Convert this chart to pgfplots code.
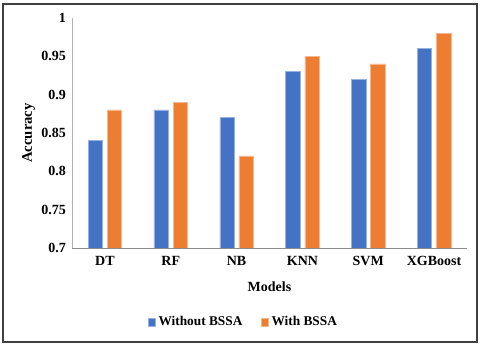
\documentclass[border=0pt]{standalone}
\usepackage{fontspec}
\setmainfont{Liberation Serif}
\usepackage{pgfplots}
\pgfplotsset{compat=1.18}
\definecolor{barblue}{HTML}{4472C4}
\definecolor{barorange}{HTML}{ED7D31}
\begin{document}
\fontsize{10}{12}\selectfont\bfseries
\begin{tikzpicture}
\useasboundingbox (0,0) rectangle (360pt,258.75pt);
\draw[line width=1.5pt, black!75] (2.6pt,2.6pt) rectangle (357.4pt,256.1pt);
\begin{axis}[
  at={(54pt,72.75pt)}, anchor=south west,
  scale only axis, width=296.25pt, height=172.5pt,
  ybar,
  ymin=0.7, ymax=1,
  ytick={0.7,0.75,0.8,0.85,0.9,0.95,1},
  xmin=-0.5, xmax=5.5,
  xtick={0,...,5},
  xticklabels={DT,RF,NB,KNN,SVM,XGBoost},
  axis x line*=bottom, axis y line*=left,
  x axis line style={black!45,-},
  y axis line style={black!30,-},
  major tick length=0pt,
  /pgf/number format/assume math mode=true,
  yticklabel style={font=\fontsize{10.5}{12}\selectfont\bfseries, anchor=east, xshift=-1pt,
    /pgf/number format/fixed, /pgf/number format/precision=2},
  xticklabel style={font=\fontsize{10.5}{12}\selectfont\bfseries, anchor=base, yshift=-13pt},
  ylabel={Accuracy},
  ylabel style={font=\fontsize{11}{12}\selectfont\bfseries, at={(axis description cs:-0.11,0.5)}, anchor=center},
  xlabel={Models},
  xlabel style={font=\fontsize{10.5}{12}\selectfont\bfseries, at={(axis description cs:0.5,-0.17)}, anchor=center},
  legend style={at={(axis description cs:0.435,-0.322)}, anchor=center, draw=none,
    font=\fontsize{10}{12}\selectfont\bfseries, legend columns=2,
    /tikz/every even column/.append style={column sep=12pt}},
  legend image code/.code={\fill[#1] (0pt,-2.8pt) rectangle (5.5pt,2.8pt);},
  bar width=10.8pt,
]
\addplot[fill=barblue, draw=barblue!55!white, line width=0.4pt, bar shift=-7.2pt]
  coordinates {(0,0.84) (1,0.88) (2,0.87) (3,0.93) (4,0.92) (5,0.96)};
\addlegendentry{Without BSSA}
\addplot[fill=barorange, draw=barorange!55!white, line width=0.4pt, bar shift=7.2pt]
  coordinates {(0,0.88) (1,0.89) (2,0.82) (3,0.95) (4,0.94) (5,0.98)};
\addlegendentry{With BSSA}
\end{axis}
\end{tikzpicture}
\end{document}
